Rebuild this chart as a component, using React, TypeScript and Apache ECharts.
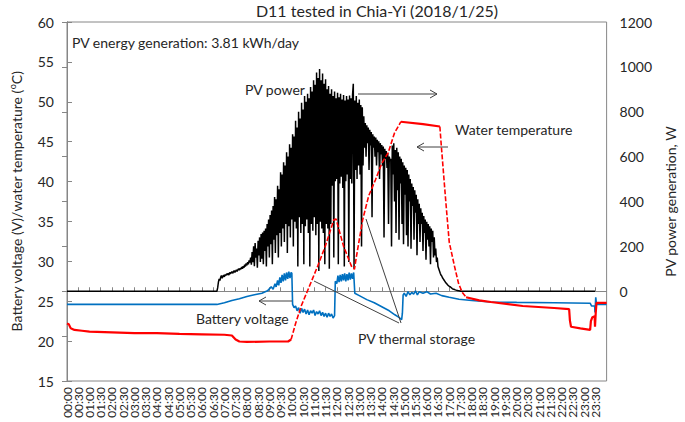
import React, { useEffect, useRef } from "react";
import * as echarts from "echarts";

const FONT = "Lato, 'Open Sans', sans-serif";
const TEXT = "#262626";
const AXIS = "#868686";
const RED = "#FF0000";

// x positions are minutes after midnight
const xTickMinutes = { min: 0, max: 1440, interval: 30 };
const leftAxisRange = { min: 15, max: 60, interval: 5 };
const rightAxisRange = { min: -400, max: 1200, interval: 200 };

// PV power (W), one reading every 2 minutes starting at 06:40 (rows of 30 minutes)
const pvStartMinute = 400;
const pvStepMinutes = 2;
const pvPower = [
  0, 15, 40, 55, 48, 62, 70, 58, 66, 72, 64, 75, 70, 78, 74,
  80, 72, 84, 78, 82, 88, 80, 86, 92, 84, 90, 95, 88, 96, 100,
  94, 102, 98, 108, 100, 112, 104, 118, 110, 124, 115, 130, 120, 138, 128,
  150, 118, 175, 130, 200, 112, 215, 150, 190, 105, 225, 160, 240, 130, 255,
  145, 262, 120, 270, 180, 280, 110, 300, 200, 320, 150, 340, 210, 360, 120,
  380, 230, 420, 170, 410, 250, 470, 150, 455, 260, 530, 200, 520, 280, 575,
  220, 560, 300, 620, 170, 600, 290, 655, 240, 640, 320, 700, 200, 690, 310,
  760, 280, 730, 110, 800, 330, 770, 260, 840, 300, 810, 120, 870, 290, 845,
  320, 880, 260, 860, 110, 910, 300, 890, 270, 940, 330, 920, 250, 975, 300,
  950, 90, 990, 310, 940, 280, 970, 260, 925, 120, 945, 300, 900, 280, 915,
  100, 880, 300, 900, 470, 870, 150, 890, 490, 860, 500, 885, 120, 865, 480,
  880, 510, 855, 460, 875, 110, 850, 490, 870, 520, 855, 130, 872, 500, 860,
  480, 875, 925, 100, 850, 540, 870, 500, 840, 560, 855, 520, 830, 200, 820,
  560, 780, 640, 750, 600, 740, 660, 730, 540, 720, 650, 710, 330, 700, 640,
  690, 600, 685, 560, 675, 620, 668, 500, 660, 610, 652, 560, 645, 240, 635,
  590, 625, 550, 615, 300, 600, 580, 590, 200, 650, 520, 660, 400, 630, 260,
  640, 450, 620, 230, 600, 480, 590, 300, 575, 210, 560, 430, 550, 250, 540,
  200, 520, 400, 500, 190, 480, 380, 465, 230, 450, 350, 430, 160, 410, 300,
  390, 220, 370, 300, 350, 180, 335, 260, 320, 140, 310, 230, 300, 200, 290,
  120, 280, 220, 270, 150, 240, 160, 190, 130, 150, 110, 100, 90, 80, 72,
  68, 60, 55, 50, 45, 40, 36, 32, 28, 25, 22, 20, 18, 15, 12,
  10, 9, 8, 6, 5, 4, 3, 2, 2, 1, 0, 0, 0, 0, 0,
  0,
];
const pvNight: [number, number][] = [[0, 0], [1409, 0]];

// Battery voltage (V): [minute, value]
const batteryVoltage: [number, number][] = [
  [0, 24.6], [400, 24.6], [420, 24.8], [440, 25.1], [460, 25.3], [480, 25.6], [500, 25.8],
  [520, 26.0], [535, 26.3], [545, 26.8], [550, 26.5], [555, 27.2], [558, 26.8], [562, 27.6],
  [565, 27.0], [568, 28.0], [571, 27.3], [574, 28.3], [577, 27.5], [580, 28.5], [583, 27.6],
  [586, 28.6], [589, 27.8], [592, 28.7], [595, 27.9], [598, 28.6], [600, 28.5], [602, 24.6],
  [606, 24.2], [610, 24.4], [614, 23.8], [618, 24.2], [622, 23.5], [626, 24.1], [630, 23.6],
  [634, 24.0], [638, 23.4], [642, 23.9], [646, 23.3], [650, 23.8], [654, 23.5], [658, 23.9],
  [662, 23.2], [666, 23.7], [670, 23.4], [674, 23.8], [678, 23.2], [682, 23.6], [686, 23.1],
  [690, 23.5], [694, 23.0], [698, 23.5], [702, 23.1], [706, 23.4], [710, 22.9], [714, 23.2],
  [716, 27.5], [720, 27.2], [723, 28.2], [726, 27.4], [729, 28.3], [732, 27.5], [735, 28.4],
  [738, 27.6], [741, 28.5], [744, 27.5], [747, 28.4], [750, 27.6], [753, 28.6], [756, 27.7],
  [759, 28.5], [762, 27.8], [765, 28.6], [768, 26.0], [780, 25.7], [800, 25.2], [820, 24.8],
  [840, 24.3], [860, 23.8], [875, 23.3], [885, 23.0], [893, 22.7], [895, 23.5], [897, 25.8],
  [900, 26.0], [905, 25.6], [910, 26.2], [915, 25.8], [920, 26.1], [925, 25.9], [930, 26.3],
  [935, 25.8], [940, 26.2], [950, 26.0], [960, 26.2], [970, 25.9], [985, 26.0], [1000, 25.7],
  [1020, 25.5], [1046, 25.25], [1080, 25.1], [1131, 24.9], [1200, 24.85], [1300, 24.8],
  [1396, 24.75], [1400, 24.4], [1408, 24.4], [1409, 23.6], [1411, 25.5], [1413, 24.6], [1440, 24.6],
];

// Water temperature (degC): [minute, value], split where the trace is drawn dashed
const waterTempNight: [number, number][] = [
  [0, 22.2], [5, 22.1], [10, 21.6], [20, 21.4], [40, 21.3], [60, 21.2], [120, 21.1],
  [180, 21.0], [240, 21.0], [300, 20.9], [360, 20.85], [420, 20.8], [440, 20.7], [450, 20.2],
  [460, 19.95], [480, 19.9], [540, 19.95], [590, 19.95], [598, 20.2],
];
const waterTempRise: [number, number][] = [
  [598, 20.2], [610, 22.2], [625, 24.4], [640, 26.1], [655, 27.8], [669, 29.4], [690, 32.0],
  [712, 35.2], [718, 35.3], [738, 31.9], [759, 29.4], [767, 29.0], [772, 30.5], [789, 35.2],
  [805, 38.2], [823, 40.2], [840, 42.3], [857, 43.6], [874, 46.1], [891, 47.5],
];
const waterTempPlateau: [number, number][] = [[891, 47.5], [950, 47.2], [995, 46.9]];
const waterTempFall: [number, number][] = [
  [995, 46.9], [999, 44.4], [1011, 37.4], [1020, 32.4], [1034, 29.4], [1045, 27.2],
  [1055, 26.1], [1065, 25.5],
];
const waterTempEvening: [number, number][] = [
  [1065, 25.5], [1100, 25.1], [1131, 24.9], [1216, 24.4], [1300, 24.15], [1340, 24.0],
  [1342, 22.6], [1345, 21.8], [1370, 21.6], [1396, 21.4], [1398, 22.5], [1402, 23.0],
  [1408, 23.1], [1409, 21.8], [1411, 23.6], [1413, 24.8], [1440, 24.8],
];

const titleText = "D11 tested in Chia-Yi (2018/1/25)";
const energyNote = "PV energy generation: 3.81 kWh/day";
const labelPV = "PV power";
const labelWater = "Water temperature";
const labelBattery = "Battery voltage";
const labelStorage = "PV thermal storage";

function hhmm(m: number) {
  const h = Math.floor(m / 60);
  const mm = m % 60;
  return `${String(h).padStart(2, "0")}:${String(mm).padStart(2, "0")}`;
}

function arrow(x1: number, y: number, x2: number) {
  const dir = x2 > x1 ? -1 : 1;
  return [
    { type: "line", shape: { x1, y1: y, x2, y2: y }, style: { stroke: "#404040", lineWidth: 1 }, z: 100 },
    {
      type: "polyline",
      shape: { points: [[x2 + dir * 7, y - 4], [x2, y], [x2 + dir * 7, y + 4]] },
      style: { stroke: "#404040", lineWidth: 1, fill: "none" },
      z: 100,
    },
  ];
}

function txt(x: number, y: number, text: string, size = 14) {
  return {
    type: "text",
    x,
    y,
    z: 100,
    style: { text, fill: TEXT, font: `${size}px ${FONT}`, textVerticalAlign: "middle" },
  };
}

function redSeries(name: string, data: [number, number][], dashed: boolean) {
  return {
    name,
    type: "line",
    yAxisIndex: 0,
    data,
    symbol: "none",
    lineStyle: dashed
      ? { color: RED, width: 1.6, type: [5, 2] }
      : { color: RED, width: 2.2 },
    z: 4,
  };
}

const xLabelStyle = {
  rotate: 90,
  fontSize: 12,
  color: TEXT,
  margin: 6,
  fontFamily: FONT,
};

export default function App() {
  const ref = useRef<HTMLDivElement>(null);
  useEffect(() => {
    if (!ref.current) return;
    const chart = echarts.init(ref.current, undefined, { renderer: "svg" });
    const pvData: [number, number][] = [
      pvNight[0],
      ...pvPower.map((v, i) => [pvStartMinute + i * pvStepMinutes, v] as [number, number]),
      pvNight[1],
    ];
    chart.setOption({
      animation: false,
      textStyle: { fontFamily: FONT },
      title: {
        text: titleText,
        left: 372,
        top: -3,
        textAlign: "center",
        textStyle: { fontSize: 16, fontWeight: "normal", color: TEXT, fontFamily: FONT },
      },
      grid: { left: 60, right: 65, top: 22, bottom: 41, show: true, borderColor: AXIS, borderWidth: 1 },
      xAxis: [
        {
          type: "value",
          position: "bottom",
          ...xTickMinutes,
          axisLine: { show: true, lineStyle: { color: AXIS } },
          axisTick: { show: true, inside: true, length: 4, lineStyle: { color: AXIS } },
          splitLine: { show: false },
          axisLabel: {
            ...xLabelStyle,
            showMinLabel: false,
            showMaxLabel: false,
            formatter: (v: number) => (v >= 1440 || v <= 0 ? "" : hhmm(v)),
          },
        },
        {
          // carries only the first label (00:00), which the main axis drops as overlapping
          type: "value",
          position: "bottom",
          offset: 0,
          min: xTickMinutes.min,
          max: xTickMinutes.max,
          interval: xTickMinutes.max,
          axisLine: { show: false },
          axisTick: { show: false },
          splitLine: { show: false },
          axisLabel: {
            ...xLabelStyle,
            showMinLabel: true,
            showMaxLabel: false,
            formatter: (v: number) => (v <= 0 ? hhmm(v) : ""),
          },
        },
      ],
      yAxis: [
        {
          type: "value",
          position: "left",
          ...leftAxisRange,
          name: "{t|Battery voltage (V)/water temperature (}{s|o}{t|C)}",
          nameLocation: "middle",
          nameGap: 43,
          nameTextStyle: {
            color: TEXT,
            rich: {
              t: { fontSize: 14, color: TEXT, fontFamily: FONT, lineHeight: 16 },
              s: { fontSize: 9, color: TEXT, fontFamily: FONT, verticalAlign: "top", lineHeight: 10 },
            },
          },
          axisLine: { show: true, lineStyle: { color: AXIS } },
          axisTick: { show: true, inside: true, length: 5, lineStyle: { color: AXIS } },
          splitLine: { show: false },
          axisLabel: { fontSize: 14, color: TEXT, margin: 13, fontFamily: FONT },
        },
        {
          type: "value",
          position: "right",
          ...rightAxisRange,
          name: "PV power generation, W",
          nameLocation: "middle",
          nameGap: 52,
          nameRotate: 90,
          nameTextStyle: { fontSize: 14, color: TEXT, fontFamily: FONT },
          axisLine: { show: true, lineStyle: { color: AXIS } },
          axisTick: { show: true, inside: true, length: 5, lineStyle: { color: AXIS } },
          splitLine: { show: false },
          axisLabel: {
            fontSize: 14,
            color: TEXT,
            margin: 13,
            fontFamily: FONT,
            formatter: (v: number) => (v < 0 ? "" : String(v)),
          },
        },
      ],
      series: [
        {
          name: "PV power",
          type: "line",
          yAxisIndex: 1,
          data: pvData,
          symbol: "none",
          lineStyle: { color: "#000000", width: 1.5 },
          z: 2,
        },
        {
          name: "Battery voltage",
          type: "line",
          yAxisIndex: 0,
          data: batteryVoltage,
          symbol: "none",
          lineStyle: { color: "#0070C0", width: 1.6 },
          z: 3,
        },
        redSeries("Water temperature", waterTempNight, false),
        redSeries("Water temperature rise", waterTempRise, true),
        redSeries("Water temperature plateau", waterTempPlateau, false),
        redSeries("Water temperature fall", waterTempFall, true),
        redSeries("Water temperature evening", waterTempEvening, false),
      ],
      graphic: [
        txt(72, 42, energyNote),
        txt(245, 89, labelPV),
        ...arrow(358, 94, 437),
        txt(455, 129, labelWater),
        ...arrow(448, 147, 417),
        txt(196, 318, labelBattery),
        ...arrow(292, 301, 259),
        txt(358, 338, labelStorage),
        { type: "line", shape: { x1: 314, y1: 281, x2: 399, y2: 323 }, style: { stroke: "#404040", lineWidth: 1 }, z: 100 },
        { type: "line", shape: { x1: 366, y1: 219, x2: 401, y2: 323 }, style: { stroke: "#404040", lineWidth: 1 }, z: 100 },
      ],
    });
    return () => chart.dispose();
  }, []);
  return (
    <div
      ref={ref}
      style={{ position: "absolute", left: 0, top: 0, width: 685, height: 422 }}
    />
  );
}
